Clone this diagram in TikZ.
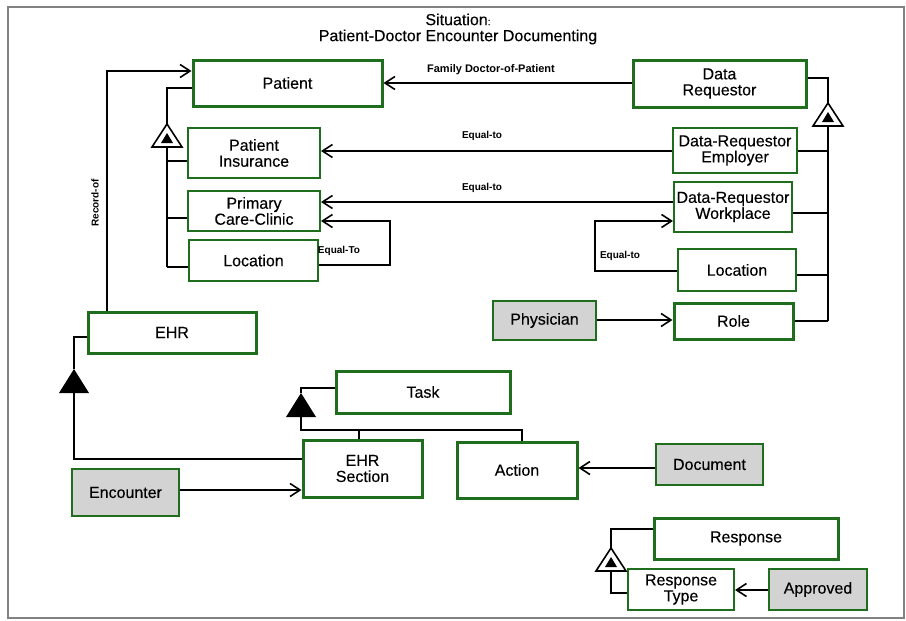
\documentclass[tikz,border=0pt]{standalone}
\usepackage{fontspec}
\setmainfont{Liberation Sans}
\newfontfamily\boxfont{Liberation Sans}[FakeBold=0.25]
\usetikzlibrary{arrows.meta}
\definecolor{boxgreen}{RGB}{30,110,30}
\definecolor{boxgray}{RGB}{211,211,211}
\definecolor{framegray}{RGB}{130,130,130}
\tikzset{
  box/.style={draw=boxgreen, line width=2pt, fill=white, align=center, inner sep=0pt,
    font=\boxfont\fontsize{16}{16}\selectfont},
  bbox/.style={box, line width=3pt},
  gbox/.style={box, fill=boxgray},
  con/.style={line width=1.6pt, black},
  arr/.style={con, -{Straight Barb[length=10pt,width=13pt]}},
  lbl/.style={font=\bfseries\fontsize{10}{10}\selectfont, inner sep=0pt},
  opentri/.pic={\draw[line width=1.6pt, fill=white] (0,0) -- (-15,23) -- (15,23) -- cycle;
                \fill (0,9) -- (-6,19) -- (6,19) -- cycle;},
  filltri/.pic={\fill (0,0) -- (-15,24) -- (15,24) -- cycle;}
}
\begin{document}
\begin{tikzpicture}[x=1pt,y=-1pt]
\useasboundingbox (0,0) rectangle (906,621);
\fill[white] (0,0) rectangle (906,621);
\draw[framegray, line width=2.5pt] (8,7) rectangle (904,618);

% title
\node[font=\boxfont\fontsize{16}{16}\selectfont, align=center, inner sep=0pt] (title) at (458,29)
  {Situation{\fontsize{10}{10}\selectfont:}\\Patient-Doctor Encounter Documenting};

% boxes
\node[bbox, minimum width=189, minimum height=46] (Patient) at (287.5,83) {Patient};
\node[bbox, minimum width=173, minimum height=47] (DataReq) at (719.5,83.5) {Data\\Requestor};
\node[box, minimum width=132, minimum height=50] (PatIns) at (254,153) {Patient\\Insurance};
\node[box, minimum width=132, minimum height=40] (PCC) at (254,211) {Primary\\Care-Clinic};
\node[box, minimum width=129, minimum height=41] (LocL) at (253.5,260.5) {Location};
\node[box, minimum width=124, minimum height=45] (DREmp) at (735,150.5) {Data-Requestor\\Employer};
\node[box, minimum width=118, minimum height=50] (DRWork) at (733,207) {Data-Requestor\\Workplace};
\node[box, minimum width=118, minimum height=42] (LocR) at (737,270) {Location};
\node[gbox, minimum width=103, minimum height=39] (Physician) at (544.5,320.5) {Physician};
\node[bbox, minimum width=119, minimum height=36] (Role) at (733.5,321) {Role};
\node[bbox, minimum width=168, minimum height=41] (EHR) at (172,332.5) {EHR};
\node[bbox, minimum width=174, minimum height=42] (Task) at (423,392) {Task};
\node[bbox, minimum width=119, minimum height=57] (EHRSec) at (362.5,468.5) {EHR\\Section};
\node[bbox, minimum width=120, minimum height=56] (Action) at (517,470) {Action};
\node[gbox, minimum width=107, minimum height=41] (Document) at (709.5,464.5) {Document};
\node[gbox, minimum width=107, minimum height=47] (Encounter) at (125.5,492.5) {Encounter};
\node[bbox, minimum width=184, minimum height=41] (Response) at (746,538.5) {Response};
\node[box, minimum width=106, minimum height=41] (RespType) at (681,589.5) {Response\\Type};
\node[gbox, minimum width=98, minimum height=41] (Approved) at (818,589.5) {Approved};

% triangle apex coordinates
\coordinate (tP) at (167,124);   \coordinate (tPb) at (167,147);
\coordinate (tD) at (828,103);   \coordinate (tDb) at (828,126);
\coordinate (tE) at (74,369);    \coordinate (tEb) at (74,393);
\coordinate (tT) at (301,393);   \coordinate (tTb) at (301,417);
\coordinate (tR) at (611,548);   \coordinate (tRb) at (611,571);

% Record-of
\coordinate (rc) at (107,71);
\draw[arr] (EHR.north -| rc) -- (rc) -- (Patient.west |- rc);
\node[lbl, rotate=90] (lrec) at (95,203) {Record-of};

% Family Doctor-of-Patient
\draw[arr] (DataReq.west |- Patient.east) -- (Patient.east);
\node[lbl, font=\bfseries\fontsize{11}{11}\selectfont] (lfam) at (491,70) {Family Doctor-of-Patient};

% Equal-to lines
\draw[arr] (DREmp.west |- 0,151) -- (PatIns.east |- 0,151);
\node[lbl] (leq1) at (482,136) {Equal-to};
\draw[arr] (DRWork.west |- 0,202) -- (PCC.east |- 0,202);
\node[lbl] (leq2) at (482,188) {Equal-to};
\coordinate (eqL) at (390,221);
\draw[arr] (LocL.east |- 0,265) -| (eqL) -- (PCC.east |- eqL);
\node[lbl] (leq3) at (339,251) {Equal-To};
\coordinate (eqR) at (595,221);
\draw[arr] (LocR.west |- 0,271) -| (eqR) -- (DRWork.west |- eqR);
\node[lbl] (leq4) at (620,256) {Equal-to};

% Patient generalization
\draw[con] (Patient.west |- 0,88) -| (tP);
\draw[con] (tPb) -- (167,267);
\draw[con] (PatIns.west |- 0,161) -- (tP |- 0,161);
\draw[con] (PCC.west |- 0,218) -- (tP |- 0,218);
\draw[con] (LocL.west |- 0,267) -- (tP |- 0,267);
\pic at (tP) {opentri};

% Data Requestor generalization
\draw[con] (DataReq.east |- 0,78) -| (tD);
\draw[con] (tDb) -- (828,321);
\draw[con] (DREmp.east |- 0,151) -- (tD |- 0,151);
\draw[con] (DRWork.east |- 0,213) -- (tD |- 0,213);
\draw[con] (LocR.east |- 0,275) -- (tD |- 0,275);
\draw[con] (Role.east |- 0,321) -- (tD |- 0,321);
\pic at (tD) {opentri};

% Physician -> Role
\draw[arr] (Physician.east |- 0,320) -- (Role.west |- 0,320);

% EHR generalization
\draw[con] (EHR.west |- 0,337) -| (tE);
\draw[con] (tEb) |- (EHRSec.west |- 0,459);
\pic at (tE) {filltri};

% Task generalization
\draw[con] (Task.west |- 0,388) -| (tT);
\coordinate (tj) at (301,430);
\draw[con] (tTb) -- (tj) -| (Action.north -| 522,0);
\draw[con] (EHRSec.north -| 359,0) -- (359,430);
\pic at (tT) {filltri};

% Encounter -> EHR Section
\draw[arr] (Encounter.east |- 0,490) -- (EHRSec.west |- 0,490);

% Document -> Action
\draw[arr] (Document.west |- 0,468) -- (Action.east |- 0,468);

% Response generalization
\draw[con] (Response.west |- 0,529) -| (tR);
\draw[con] (tRb) |- (RespType.west |- 0,593);
\pic at (tR) {opentri};

% Approved -> Response Type
\draw[arr] (Approved.west |- 0,590) -- (RespType.east |- 0,590);
\end{tikzpicture}
\end{document}
